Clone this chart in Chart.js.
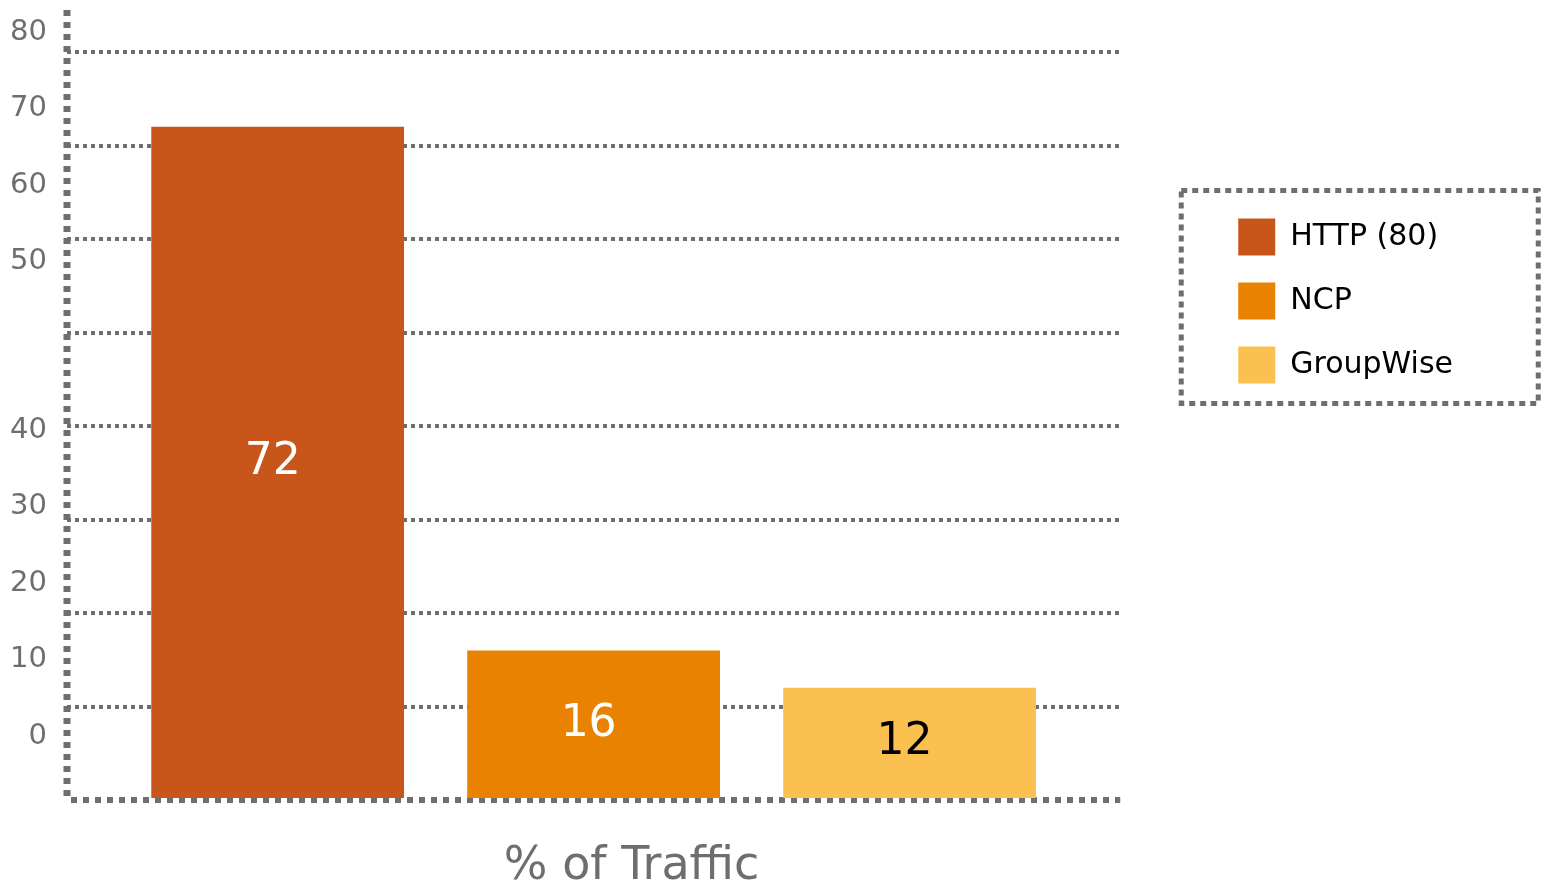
<!DOCTYPE html>
<html>
<head>
<meta charset="utf-8">
<script src="https://cdn.jsdelivr.net/npm/chart.js@4"></script>
<style>
  body { margin: 0; background: #fff; }
  #wrap { width: 1547px; height: 893px; }
</style>
</head>
<body>
<div id="wrap"><canvas id="trafficChart"></canvas></div>
<script>
// Chart data
const categories = ['% of Traffic'];
const seriesNames = ['HTTP (80)', 'NCP', 'GroupWise'];
const seriesValues = [72, 16, 12];
const yTickLabels = [0, 10, 20, 30, 40, 50, 60, 70, 80];

const barColors = ['#C8561A', '#E88200', '#FAC150'];
const valueColors = ['#ffffff', '#ffffff', '#000000'];
const grey = '#6e6e6e';
const font = 'DejaVu Sans';

// the printed tick labels do not line up with the grid, labels above 40 sit higher
const labelGap = 12;

// dotted axis lines, drawn under the bars
const axisLines = {
  id: 'axisLines',
  beforeDatasetsDraw(chart) {
    const a = chart.chartArea;
    const ctx = chart.ctx;
    ctx.save();
    ctx.strokeStyle = grey;
    ctx.setLineDash([6, 6]);
    ctx.lineWidth = 7;
    ctx.beginPath();
    ctx.moveTo(a.left, a.top);
    ctx.lineTo(a.left, a.bottom);
    ctx.stroke();
    ctx.lineWidth = 6;
    ctx.beginPath();
    ctx.moveTo(a.left + 4, a.bottom);
    ctx.lineTo(a.right, a.bottom);
    ctx.stroke();
    ctx.restore();
  }
};

// value inside each bar
const barValues = {
  id: 'barValues',
  afterDatasetsDraw(chart) {
    const ctx = chart.ctx;
    ctx.save();
    ctx.font = '44px "' + font + '"';
    ctx.textAlign = 'center';
    ctx.textBaseline = 'middle';
    chart.data.datasets.forEach((ds, i) => {
      const bar = chart.getDatasetMeta(i).data[0];
      ctx.fillStyle = valueColors[i];
      ctx.fillText(ds.data[0], bar.x - 5, (bar.y + bar.base) / 2);
    });
    ctx.restore();
  }
};

// dotted frame round the legend
const legendFrame = {
  id: 'legendFrame',
  afterDraw(chart) {
    const hb = chart.legend.legendHitBoxes;
    if (!hb || !hb.length) return;
    const ctx = chart.ctx;
    const x = hb[0].left - 57;
    const y = hb[0].top - 28;
    ctx.save();
    ctx.strokeStyle = grey;
    ctx.lineWidth = 5;
    ctx.setLineDash([6, 5]);
    ctx.strokeRect(x, y, 357, 213);
    ctx.restore();
  }
};

const ctx = document.getElementById('trafficChart').getContext('2d');
const trafficChart = new Chart(ctx, {
  type: 'bar',
  data: {
    labels: categories,
    datasets: seriesNames.map((name, i) => ({
      label: name,
      data: [seriesValues[i]],
      backgroundColor: barColors[i],
      borderWidth: 0,
      barPercentage: 0.8,
      categoryPercentage: 0.9
    }))
  },
  options: {
    responsive: true,
    maintainAspectRatio: false,
    animation: false,
    layout: { padding: { top: 10, right: 84, left: 0, bottom: 0 } },
    plugins: {
      tooltip: { enabled: false },
      legend: {
        position: 'right',
        align: 'start',
        maxWidth: 400,
        title: { display: true, text: '', padding: { top: 0, bottom: 167 } },
        labels: {
          boxWidth: 37,
          boxHeight: 37,
          padding: 27,
          color: '#000',
          font: { family: font, size: 30 }
        }
      }
    },
    scales: {
      x: {
        grid: { display: false, drawTicks: false },
        border: { display: false },
        ticks: {
          color: grey,
          font: { family: font, size: 46 },
          padding: 39,
          labelOffset: 38
        },
        afterFit(s) { s.height = 93; s.paddingLeft = 0; s.paddingRight = 0; }
      },
      y: {
        min: 0,
        max: 84.5,
        weight: 0,
        ticks: { display: false, stepSize: 10, includeBounds: false },
        grid: {
          color: c => c.tick && c.tick.value === 0 ? 'rgba(0,0,0,0)' : grey,
          lineWidth: 4,
          drawTicks: false
        },
        border: { display: false, dash: [4, 4] },
        afterFit(s) { s.width = 0; s.paddingTop = 0; s.paddingBottom = 0; }
      },
      yLabels: {
        type: 'linear',
        position: 'left',
        weight: 1,
        min: -8.37,
        max: 94.9,
        grid: { display: false, drawTicks: false },
        border: { display: false },
        afterBuildTicks(s) {
          s.ticks = yTickLabels.map(v => ({ value: v > 40 ? v + labelGap : v }));
        },
        ticks: {
          color: grey,
          font: { family: font, size: 29 },
          padding: 20,
          callback: v => String(v > 40 ? v - labelGap : v)
        },
        afterFit(s) { s.width = 67; s.paddingTop = 0; s.paddingBottom = 0; }
      },
      gap: {
        type: 'linear',
        position: 'right',
        grid: { display: false, drawTicks: false },
        border: { display: false },
        ticks: { display: false },
        afterFit(s) { s.width = 91; s.paddingTop = 0; s.paddingBottom = 0; }
      }
    }
  },
  plugins: [axisLines, barValues, legendFrame]
});
</script>
</body>
</html>
